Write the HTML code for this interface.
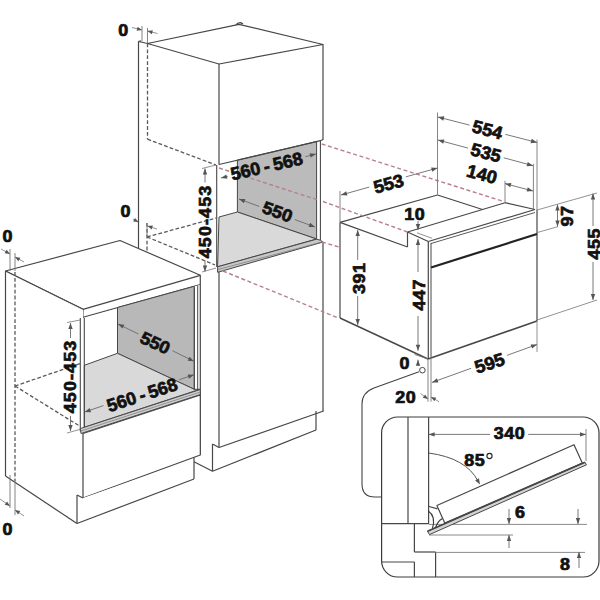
<!DOCTYPE html>
<html><head><meta charset="utf-8"><style>
html,body{margin:0;padding:0;background:#fff;}
svg{display:block;}
text{font-family:"Liberation Sans",sans-serif;font-weight:bold;fill:#111;}
</style></head><body>
<svg width="600" height="600" viewBox="0 0 600 600">
<rect width="600" height="600" fill="#fff"/>
<polygon points="138.5,41.5 147.5,43.5 219,64 219,447.5 212.5,444 212.5,471.3 194,461.7 138.5,430" fill="#fff" stroke="none" stroke-linejoin="round"/>
<line x1="138.5" y1="41.5" x2="138.5" y2="248" stroke="#474747" stroke-width="1.2"/>
<line x1="138.5" y1="41.5" x2="147.5" y2="43.5" stroke="#474747" stroke-width="1.2"/>
<line x1="138.5" y1="41.5" x2="141" y2="40.8" stroke="#474747" stroke-width="1.2"/>
<polygon points="147.5,43.5 239,24.3 323,44.5 219,64" fill="#fff" stroke="#474747" stroke-width="1.2" stroke-linejoin="round"/>
<path d="M236,24.9 Q237.5,22.6 240.5,22.7 L243,23.9" fill="none" stroke="#474747" stroke-width="1.3"/>
<line x1="323" y1="44.5" x2="323" y2="140" stroke="#474747" stroke-width="1.2"/>
<line x1="323" y1="242" x2="323" y2="411" stroke="#474747" stroke-width="1.2"/>
<line x1="219" y1="64" x2="219" y2="447.5" stroke="#474747" stroke-width="1.2"/>
<polygon points="219,164.5 323,139.5 320.4,140.7 320.4,240.2 323,242 217.6,272.3 216.7,165" fill="#fff" stroke="none" stroke-linejoin="round"/>
<polygon points="237.4,160 316.6,141.6 316.6,239 237.4,212" fill="#bbbbbb" stroke="#474747" stroke-width="1.0" stroke-linejoin="round"/>
<polygon points="219,217 237.4,212 316.6,239 217.6,266.8" fill="#d9d9d9" stroke="#474747" stroke-width="1.0" stroke-linejoin="round"/>
<polyline points="219,164.5 320.4,140.7 323,139.5" fill="none" stroke="#474747" stroke-width="1.2"/>
<line x1="320.4" y1="140.7" x2="320.4" y2="240.2" stroke="#474747" stroke-width="1.1"/>
<line x1="216.7" y1="165" x2="216.7" y2="267" stroke="#474747" stroke-width="1.1"/>
<polygon points="217.6,266.8 316.6,239.2 320.4,240.2 323,242 217.6,272.3" fill="#c8c8c8" stroke="#474747" stroke-width="1.0" stroke-linejoin="round"/>
<line x1="218" y1="269.5" x2="322" y2="242" stroke="#777" stroke-width="0.7"/>
<line x1="219" y1="447.5" x2="323.7" y2="411" stroke="#474747" stroke-width="1.2"/>
<polyline points="212.5,444 219,447.5" fill="none" stroke="#474747" stroke-width="1.2"/>
<line x1="212.5" y1="444" x2="212.5" y2="471.3" stroke="#474747" stroke-width="1.2"/>
<line x1="212.5" y1="471.3" x2="316" y2="430" stroke="#474747" stroke-width="1.2"/>
<line x1="316" y1="411" x2="316" y2="430" stroke="#474747" stroke-width="1.2"/>
<line x1="194" y1="461.7" x2="212.5" y2="471.3" stroke="#474747" stroke-width="1.2"/>
<line x1="147.5" y1="43.5" x2="147.5" y2="139.2" stroke="#5a5a5a" stroke-width="1.3" stroke-dasharray="3.8,2.1"/>
<line x1="147.5" y1="139.2" x2="216" y2="165" stroke="#5a5a5a" stroke-width="1.3" stroke-dasharray="3.8,2.1"/>
<line x1="147" y1="223" x2="147" y2="251" stroke="#5a5a5a" stroke-width="1.3" stroke-dasharray="3.8,2.1"/>
<line x1="147" y1="237" x2="216" y2="218" stroke="#5a5a5a" stroke-width="1.3" stroke-dasharray="3.8,2.1"/>
<line x1="147" y1="237" x2="215" y2="265" stroke="#5a5a5a" stroke-width="1.3" stroke-dasharray="3.8,2.1"/>
<polygon points="5.5,271 120,240.5 200.3,275.3 200.3,284.7 80.3,318 83,309.3" fill="#fff" stroke="#474747" stroke-width="1.2" stroke-linejoin="round"/>
<line x1="83" y1="309.3" x2="200.3" y2="275.3" stroke="#474747" stroke-width="1.2"/>
<line x1="83" y1="309.3" x2="83" y2="318" stroke="#474747" stroke-width="1.0"/>
<polygon points="5.5,271 83,309.3 83,498 77,495 77,523.5 5.5,476" fill="#fff" stroke="none" stroke-linejoin="round"/>
<line x1="5.5" y1="271" x2="83" y2="309.3" stroke="#474747" stroke-width="1.2"/>
<line x1="5.5" y1="271" x2="5.5" y2="476" stroke="#474747" stroke-width="1.2"/>
<line x1="5.5" y1="476" x2="77" y2="523.5" stroke="#474747" stroke-width="1.2"/>
<polygon points="84.3,318 200.3,284.7 200.3,391 80.3,431" fill="#fff" stroke="none" stroke-linejoin="round"/>
<polygon points="117.5,307.5 194.3,286.3 194.3,389.3 117.5,353.3" fill="#b8b8b8" stroke="#474747" stroke-width="1.0" stroke-linejoin="round"/>
<polygon points="84.3,365.3 117.5,353.3 194.3,389.3 200,389.3 84.3,427.3" fill="#d9d9d9" stroke="#474747" stroke-width="1.0" stroke-linejoin="round"/>
<line x1="80.3" y1="318" x2="80.3" y2="431.3" stroke="#474747" stroke-width="1.1"/>
<line x1="84.3" y1="318" x2="84.3" y2="427.3" stroke="#474747" stroke-width="1.1"/>
<line x1="194.3" y1="287.5" x2="194.3" y2="390" stroke="#474747" stroke-width="1.0"/>
<line x1="197.7" y1="285.5" x2="197.7" y2="390" stroke="#474747" stroke-width="1.0"/>
<line x1="200.3" y1="284.7" x2="200.3" y2="455" stroke="#474747" stroke-width="1.2"/>
<polygon points="80.3,428.6 200.3,389.5 200.3,394.5 81,433.5" fill="#cfcfcf" stroke="#474747" stroke-width="1.0" stroke-linejoin="round"/>
<line x1="80.8" y1="431" x2="200.3" y2="392" stroke="#777" stroke-width="0.7"/>
<polygon points="83,433.5 200.3,395 200.3,455 83,498" fill="#fff" stroke="#474747" stroke-width="1.2" stroke-linejoin="round"/>
<polygon points="77,495 83,498 194,459 194,479 77,523.5" fill="#fff" stroke="none" stroke-linejoin="round"/>
<line x1="77" y1="495" x2="77" y2="523.5" stroke="#474747" stroke-width="1.2"/>
<line x1="77" y1="495" x2="83" y2="498" stroke="#474747" stroke-width="1.2"/>
<line x1="77" y1="523.5" x2="194" y2="479" stroke="#474747" stroke-width="1.2"/>
<line x1="194" y1="457" x2="194" y2="479" stroke="#474747" stroke-width="1.2"/>
<line x1="15" y1="272" x2="15" y2="481" stroke="#5a5a5a" stroke-width="1.3" stroke-dasharray="3.8,2.1"/>
<line x1="15" y1="386" x2="80.3" y2="363.5" stroke="#5a5a5a" stroke-width="1.3" stroke-dasharray="3.8,2.1"/>
<line x1="15" y1="386" x2="80.3" y2="426.5" stroke="#5a5a5a" stroke-width="1.3" stroke-dasharray="3.8,2.1"/>
<polygon points="340,222.4 437.5,195 482.5,209.5 505,202.7 535,209.5 537,321 428,359 340,318" fill="#fff" stroke="none" stroke-linejoin="round"/>
<line x1="340" y1="222.4" x2="437.5" y2="195" stroke="#474747" stroke-width="1.2"/>
<line x1="437.5" y1="195" x2="482.5" y2="209.5" stroke="#474747" stroke-width="1.2"/>
<line x1="340" y1="222.4" x2="407.5" y2="247" stroke="#474747" stroke-width="1.2"/>
<line x1="407.5" y1="247" x2="407.5" y2="232" stroke="#474747" stroke-width="1.2"/>
<line x1="407.5" y1="232" x2="505" y2="202.7" stroke="#474747" stroke-width="1.2"/>
<line x1="505" y1="202.7" x2="535" y2="209.5" stroke="#474747" stroke-width="1.2"/>
<line x1="407.5" y1="232" x2="428.3" y2="241.5" stroke="#474747" stroke-width="1.2"/>
<line x1="417" y1="232.8" x2="432" y2="238.3" stroke="#777" stroke-width="0.8"/>
<line x1="428.3" y1="241.5" x2="535" y2="209.5" stroke="#474747" stroke-width="1.2"/>
<line x1="431" y1="243.5" x2="535" y2="212.5" stroke="#474747" stroke-width="0.9"/>
<line x1="428.3" y1="241.5" x2="428.3" y2="359" stroke="#474747" stroke-width="1.2"/>
<line x1="431" y1="243" x2="431" y2="357" stroke="#474747" stroke-width="1.0"/>
<line x1="537" y1="209.5" x2="537" y2="321" stroke="#474747" stroke-width="1.2"/>
<line x1="428" y1="359" x2="537" y2="321" stroke="#474747" stroke-width="1.5"/>
<line x1="340" y1="318" x2="428" y2="359" stroke="#474747" stroke-width="1.4"/>
<line x1="340" y1="222.4" x2="340" y2="318" stroke="#474747" stroke-width="1.2"/>
<line x1="431" y1="267.5" x2="537" y2="234" stroke="#222" stroke-width="2.2"/>
<line x1="321.7" y1="144" x2="502" y2="201" stroke="#b5828c" stroke-width="1.4" stroke-dasharray="4,2.6"/>
<line x1="219" y1="168" x2="318" y2="200" stroke="#b5828c" stroke-width="1.4" stroke-dasharray="4,2.6"/>
<line x1="323" y1="201.5" x2="407.5" y2="232" stroke="#b5828c" stroke-width="1.4" stroke-dasharray="4,2.6"/>
<line x1="322" y1="242" x2="340" y2="247.3" stroke="#b5828c" stroke-width="1.4" stroke-dasharray="4,2.6"/>
<line x1="223" y1="271" x2="337" y2="317.5" stroke="#b5828c" stroke-width="1.4" stroke-dasharray="4,2.6"/>
<line x1="142" y1="26" x2="142" y2="41.5" stroke="#777" stroke-width="0.9"/>
<line x1="147.5" y1="28" x2="147.5" y2="43" stroke="#777" stroke-width="0.9"/>
<line x1="132" y1="27.5" x2="142" y2="30" stroke="#777" stroke-width="0.8"/>
<polygon points="142.00,30.00 136.66,30.73 137.63,26.85" fill="#555"/>
<line x1="157.5" y1="33.5" x2="147.5" y2="31" stroke="#777" stroke-width="0.8"/>
<polygon points="147.50,31.00 152.84,30.27 151.87,34.15" fill="#555"/>
<g transform="translate(123.3,30) rotate(0) scale(1.12,1)"><text x="0.25" y="5.73" font-size="16" letter-spacing="0.5" text-anchor="middle" stroke="#111" stroke-width="0.7">0</text></g>
<line x1="133" y1="219" x2="138" y2="222" stroke="#777" stroke-width="0.8"/>
<polygon points="138.50,222.00 133.15,221.41 135.03,217.88" fill="#555"/>
<line x1="147" y1="223" x2="147" y2="237" stroke="#777" stroke-width="0.9"/>
<line x1="157" y1="229" x2="147.5" y2="226" stroke="#777" stroke-width="0.8"/>
<polygon points="147.50,226.00 152.87,225.60 151.67,229.41" fill="#555"/>
<g transform="translate(125.5,211) rotate(0) scale(1.12,1)"><text x="0.25" y="5.73" font-size="16" letter-spacing="0.5" text-anchor="middle" stroke="#111" stroke-width="0.7">0</text></g>
<line x1="202" y1="168.5" x2="216" y2="165" stroke="#777" stroke-width="0.8"/>
<line x1="202" y1="272" x2="216" y2="268" stroke="#777" stroke-width="0.8"/>
<line x1="205" y1="168.5" x2="205.0" y2="182.5" stroke="#6a6a6a" stroke-width="0.9"/>
<line x1="205.0" y1="260.5" x2="205" y2="271.5" stroke="#6a6a6a" stroke-width="0.9"/>
<polygon points="205.00,168.50 207.20,174.50 202.80,174.50" fill="#555"/>
<polygon points="205.00,271.50 202.80,265.50 207.20,265.50" fill="#555"/>
<g transform="translate(205,222) rotate(-90) scale(1.12,1)"><text x="0.50" y="5.73" font-size="16" letter-spacing="1.0" text-anchor="middle" stroke="#111" stroke-width="0.7">450-453</text></g>
<line x1="221" y1="178" x2="227.83841972795835" y2="176.27239922662105" stroke="#6a6a6a" stroke-width="0.9"/>
<line x1="305.4015552746455" y1="156.67750182535272" x2="316" y2="154" stroke="#6a6a6a" stroke-width="0.9"/>
<polygon points="221.00,178.00 226.28,174.40 227.36,178.66" fill="#555"/>
<polygon points="316.00,154.00 310.72,157.60 309.64,153.34" fill="#555"/>
<g transform="translate(266.5,166) rotate(-13) scale(1.0,1)"><text x="0.00" y="6.44" font-size="18" letter-spacing="0" text-anchor="middle" stroke="#111" stroke-width="0.7">560 - 568</text></g>
<line x1="239" y1="199" x2="259.12513931706025" y2="206.4145250115485" stroke="#6a6a6a" stroke-width="0.9"/>
<line x1="294.78217775611046" y1="219.55132864698805" x2="315" y2="227" stroke="#6a6a6a" stroke-width="0.9"/>
<polygon points="239.00,199.00 245.39,199.01 243.87,203.14" fill="#555"/>
<polygon points="315.00,227.00 308.61,226.99 310.13,222.86" fill="#555"/>
<g transform="translate(277.5,211.5) rotate(20) scale(1.05,1)"><text x="0.00" y="6.26" font-size="17.5" letter-spacing="0" text-anchor="middle" stroke="#111" stroke-width="0.7">550</text></g>
<line x1="10" y1="249" x2="10" y2="271" stroke="#777" stroke-width="0.9"/>
<line x1="15" y1="253" x2="15" y2="271" stroke="#777" stroke-width="0.9"/>
<line x1="1" y1="249" x2="10" y2="254" stroke="#777" stroke-width="0.8"/>
<polygon points="10.00,254.00 4.66,253.32 6.60,249.82" fill="#555"/>
<line x1="24" y1="262" x2="15" y2="257" stroke="#777" stroke-width="0.8"/>
<polygon points="15.00,257.00 20.34,257.68 18.40,261.18" fill="#555"/>
<g transform="translate(7.5,236) rotate(0) scale(1.12,1)"><text x="0.25" y="5.73" font-size="16" letter-spacing="0.5" text-anchor="middle" stroke="#111" stroke-width="0.7">0</text></g>
<line x1="10" y1="475" x2="10" y2="508" stroke="#777" stroke-width="0.9"/>
<line x1="15" y1="481" x2="15" y2="515" stroke="#777" stroke-width="0.9"/>
<line x1="0" y1="499" x2="10" y2="506" stroke="#777" stroke-width="0.8"/>
<polygon points="10.00,506.00 4.76,504.77 7.05,501.49" fill="#555"/>
<line x1="24" y1="516" x2="15" y2="510" stroke="#777" stroke-width="0.8"/>
<polygon points="15.00,510.00 20.27,511.11 18.05,514.44" fill="#555"/>
<g transform="translate(7.5,529) rotate(0) scale(1.12,1)"><text x="0.25" y="5.73" font-size="16" letter-spacing="0.5" text-anchor="middle" stroke="#111" stroke-width="0.7">0</text></g>
<line x1="67" y1="322.5" x2="80.3" y2="320" stroke="#777" stroke-width="0.8"/>
<line x1="67" y1="433" x2="80.3" y2="429.3" stroke="#777" stroke-width="0.8"/>
<line x1="70.5" y1="323" x2="70.5" y2="338.0" stroke="#6a6a6a" stroke-width="0.9"/>
<line x1="70.5" y1="416.0" x2="70.5" y2="431" stroke="#6a6a6a" stroke-width="0.9"/>
<polygon points="70.50,323.00 72.70,329.00 68.30,329.00" fill="#555"/>
<polygon points="70.50,431.00 68.30,425.00 72.70,425.00" fill="#555"/>
<g transform="translate(70.5,377) rotate(-90) scale(1.12,1)"><text x="0.50" y="5.73" font-size="16" letter-spacing="1.0" text-anchor="middle" stroke="#111" stroke-width="0.7">450-453</text></g>
<line x1="118" y1="324" x2="138.3991659780611" y2="334.01169593396946" stroke="#6a6a6a" stroke-width="0.9"/>
<line x1="172.5121491773184" y1="350.75398900413126" x2="194" y2="361.3" stroke="#6a6a6a" stroke-width="0.9"/>
<polygon points="118.00,324.00 124.36,324.67 122.42,328.62" fill="#555"/>
<polygon points="194.00,361.30 187.64,360.63 189.58,356.68" fill="#555"/>
<g transform="translate(155.3,342.7) rotate(25) scale(1.05,1)"><text x="0.00" y="6.26" font-size="17.5" letter-spacing="0" text-anchor="middle" stroke="#111" stroke-width="0.7">550</text></g>
<line x1="84.7" y1="412" x2="103.45460716770057" y2="405.5997543700345" stroke="#6a6a6a" stroke-width="0.9"/>
<line x1="179.16724444478666" y1="379.76186443009567" x2="194" y2="374.7" stroke="#6a6a6a" stroke-width="0.9"/>
<polygon points="84.70,412.00 89.67,407.98 91.09,412.14" fill="#555"/>
<polygon points="194.00,374.70 189.03,378.72 187.61,374.56" fill="#555"/>
<g transform="translate(142,394.7) rotate(-18) scale(1.0,1)"><text x="0.00" y="6.44" font-size="18" letter-spacing="0" text-anchor="middle" stroke="#111" stroke-width="0.7">560 - 568</text></g>
<line x1="340" y1="191" x2="340" y2="222" stroke="#777" stroke-width="0.9"/>
<line x1="437.5" y1="112.5" x2="437.5" y2="195" stroke="#777" stroke-width="0.9"/>
<line x1="341" y1="195" x2="369.2744907057982" y2="187.08900260045024" stroke="#6a6a6a" stroke-width="0.9"/>
<line x1="405.86909201547655" y1="176.85009860706873" x2="437.5" y2="168" stroke="#6a6a6a" stroke-width="0.9"/>
<polygon points="341.00,195.00 346.19,191.26 347.37,195.50" fill="#555"/>
<polygon points="437.50,168.00 432.31,171.74 431.13,167.50" fill="#555"/>
<g transform="translate(388.5,183.5) rotate(-15) scale(1.02,1)"><text x="0.00" y="6.44" font-size="18" letter-spacing="0" text-anchor="middle" stroke="#111" stroke-width="0.7">553</text></g>
<line x1="537" y1="139.7" x2="537" y2="209.5" stroke="#777" stroke-width="0.9"/>
<line x1="533.4" y1="163.8" x2="533.4" y2="209" stroke="#777" stroke-width="0.9"/>
<line x1="505" y1="180.8" x2="505" y2="202.7" stroke="#777" stroke-width="0.9"/>
<line x1="438" y1="117" x2="469.5243652985097" y2="125.11991227385855" stroke="#6a6a6a" stroke-width="0.9"/>
<line x1="505.35485967457964" y1="134.3489790070887" x2="537" y2="142.5" stroke="#6a6a6a" stroke-width="0.9"/>
<polygon points="438.00,117.00 444.36,116.37 443.26,120.63" fill="#555"/>
<polygon points="537.00,142.50 530.64,143.13 531.74,138.87" fill="#555"/>
<g transform="translate(487.5,129.5) rotate(15) scale(1.02,1)"><text x="0.00" y="6.44" font-size="18" letter-spacing="0" text-anchor="middle" stroke="#111" stroke-width="0.7">554</text></g>
<line x1="438" y1="140" x2="468.01960519784706" y2="148.1210931956281" stroke="#6a6a6a" stroke-width="0.9"/>
<line x1="503.73574636412866" y1="157.78324927955902" x2="533" y2="165.7" stroke="#6a6a6a" stroke-width="0.9"/>
<polygon points="438.00,140.00 444.37,139.44 443.22,143.69" fill="#555"/>
<polygon points="533.00,165.70 526.63,166.26 527.78,162.01" fill="#555"/>
<g transform="translate(486,152.5) rotate(15) scale(1.02,1)"><text x="0.00" y="6.44" font-size="18" letter-spacing="0" text-anchor="middle" stroke="#111" stroke-width="0.7">535</text></g>
<line x1="505" y1="183.6" x2="533" y2="191" stroke="#6a6a6a" stroke-width="0.9"/>
<polygon points="505.00,183.60 511.36,183.01 510.24,187.26" fill="#555"/>
<polygon points="533.00,191.00 526.64,191.59 527.76,187.34" fill="#555"/>
<g transform="translate(482,174) rotate(15) scale(1.02,1)"><text x="0.00" y="6.44" font-size="18" letter-spacing="0" text-anchor="middle" stroke="#111" stroke-width="0.7">140</text></g>
<line x1="418" y1="221" x2="418" y2="230" stroke="#6a6a6a" stroke-width="0.9"/>
<polygon points="418.00,230.00 415.80,224.00 420.20,224.00" fill="#555"/>
<line x1="418" y1="239" x2="418" y2="252" stroke="#6a6a6a" stroke-width="0.9"/>
<polygon points="418.00,239.00 420.20,245.00 415.80,245.00" fill="#555"/>
<g transform="translate(414.5,214.3) rotate(0) scale(1.12,1)"><text x="0.25" y="5.73" font-size="16" letter-spacing="0.5" text-anchor="middle" stroke="#111" stroke-width="0.7">10</text></g>
<line x1="357.7" y1="230" x2="357.7" y2="260.0" stroke="#6a6a6a" stroke-width="0.9"/>
<line x1="357.7" y1="296.0" x2="357.7" y2="325" stroke="#6a6a6a" stroke-width="0.9"/>
<polygon points="357.70,230.00 359.90,236.00 355.50,236.00" fill="#555"/>
<polygon points="357.70,325.00 355.50,319.00 359.90,319.00" fill="#555"/>
<g transform="translate(359,278.5) rotate(-90) scale(1.12,1)"><text x="0.25" y="5.73" font-size="16" letter-spacing="0.5" text-anchor="middle" stroke="#111" stroke-width="0.7">391</text></g>
<line x1="418" y1="252" x2="418" y2="272" stroke="#6a6a6a" stroke-width="0.9"/>
<line x1="418" y1="316" x2="418" y2="350.7" stroke="#6a6a6a" stroke-width="0.9"/>
<polygon points="418.00,350.70 415.80,344.70 420.20,344.70" fill="#555"/>
<line x1="418" y1="359.7" x2="418" y2="366" stroke="#6a6a6a" stroke-width="0.9"/>
<polygon points="418.00,359.70 420.20,365.70 415.80,365.70" fill="#555"/>
<line x1="414.5" y1="354.5" x2="428" y2="359" stroke="#777" stroke-width="0.8"/>
<g transform="translate(419,295) rotate(-90) scale(1.12,1)"><text x="0.25" y="5.73" font-size="16" letter-spacing="0.5" text-anchor="middle" stroke="#111" stroke-width="0.7">447</text></g>
<line x1="537" y1="210" x2="597" y2="193" stroke="#777" stroke-width="0.8"/>
<line x1="537" y1="232.6" x2="558" y2="226.6" stroke="#777" stroke-width="0.8"/>
<line x1="537" y1="320" x2="597" y2="300" stroke="#777" stroke-width="0.8"/>
<line x1="557.5" y1="204.5" x2="557.5" y2="226.6" stroke="#6a6a6a" stroke-width="0.9"/>
<polygon points="557.50,204.50 559.70,210.50 555.30,210.50" fill="#555"/>
<polygon points="557.50,226.60 555.30,220.60 559.70,220.60" fill="#555"/>
<g transform="translate(566.8,216.3) rotate(-90) scale(1.12,1)"><text x="0.25" y="5.73" font-size="16" letter-spacing="0.5" text-anchor="middle" stroke="#111" stroke-width="0.7">97</text></g>
<line x1="593" y1="193.5" x2="593.0" y2="226.0" stroke="#6a6a6a" stroke-width="0.9"/>
<line x1="593.0" y1="262.0" x2="593" y2="300" stroke="#6a6a6a" stroke-width="0.9"/>
<polygon points="593.00,193.50 595.20,199.50 590.80,199.50" fill="#555"/>
<polygon points="593.00,300.00 590.80,294.00 595.20,294.00" fill="#555"/>
<g transform="translate(594.5,244) rotate(-90) scale(1.12,1)"><text x="0.25" y="5.73" font-size="16" letter-spacing="0.5" text-anchor="middle" stroke="#111" stroke-width="0.7">455</text></g>
<line x1="537" y1="321" x2="537" y2="352" stroke="#777" stroke-width="0.8"/>
<line x1="432" y1="382.4" x2="471.19593223702793" y2="368.25213493539655" stroke="#6a6a6a" stroke-width="0.9"/>
<line x1="506.93879248513434" y1="355.35066442679437" x2="537" y2="344.5" stroke="#6a6a6a" stroke-width="0.9"/>
<polygon points="432.00,382.40 436.90,378.29 438.39,382.43" fill="#555"/>
<polygon points="537.00,344.50 532.10,348.61 530.61,344.47" fill="#555"/>
<g transform="translate(489.5,363) rotate(-18) scale(1.02,1)"><text x="0.00" y="6.44" font-size="18" letter-spacing="0" text-anchor="middle" stroke="#111" stroke-width="0.7">595</text></g>
<g transform="translate(404.5,363.3) rotate(0) scale(1.12,1)"><text x="0.25" y="5.73" font-size="16" letter-spacing="0.5" text-anchor="middle" stroke="#111" stroke-width="0.7">0</text></g>
<g transform="translate(405.5,397) rotate(0) scale(1.12,1)"><text x="0.25" y="5.73" font-size="16" letter-spacing="0.5" text-anchor="middle" stroke="#111" stroke-width="0.7">20</text></g>
<line x1="428" y1="359" x2="428" y2="401.7" stroke="#777" stroke-width="0.9"/>
<line x1="431" y1="357" x2="431" y2="401.7" stroke="#777" stroke-width="0.9"/>
<line x1="420.5" y1="393.5" x2="428" y2="399" stroke="#777" stroke-width="0.8"/>
<polygon points="428.00,399.00 422.79,397.66 425.15,394.43" fill="#555"/>
<line x1="439" y1="401.7" x2="431" y2="397" stroke="#777" stroke-width="0.8"/>
<polygon points="431.00,397.00 436.32,397.81 434.30,401.26" fill="#555"/>
<circle cx="422.4" cy="370.2" r="2.8" fill="#fff" stroke="#444" stroke-width="1"/>
<path d="M419,371.8 L374,388 Q362,392.5 362,404 L362,484 Q362,497 375,497 L381.6,497" fill="none" stroke="#444" stroke-width="1.1"/>
<rect x="381.6" y="417" width="217.4" height="160" rx="16" ry="16" fill="#fff" stroke="#3c3c3c" stroke-width="1.2"/>
<line x1="408" y1="417" x2="408" y2="523.6" stroke="#474747" stroke-width="1.2"/>
<line x1="428.6" y1="417" x2="428.6" y2="523.6" stroke="#474747" stroke-width="1.2"/>
<line x1="381.6" y1="523.6" x2="429" y2="523.6" stroke="#474747" stroke-width="1.2"/>
<line x1="414.4" y1="523.6" x2="414.4" y2="552" stroke="#474747" stroke-width="1.2"/>
<line x1="414.4" y1="552" x2="435.6" y2="552" stroke="#474747" stroke-width="1.2"/>
<line x1="435.6" y1="552" x2="435.6" y2="577" stroke="#474747" stroke-width="1.2"/>
<line x1="381.6" y1="562" x2="414.4" y2="562" stroke="#474747" stroke-width="1.2"/>
<line x1="414.4" y1="562" x2="414.4" y2="577" stroke="#474747" stroke-width="1.2"/>
<line x1="429" y1="524.4" x2="587" y2="524.4" stroke="#8a8a8a" stroke-width="1.0"/>
<line x1="429" y1="535" x2="513" y2="535" stroke="#8a8a8a" stroke-width="1.0"/>
<line x1="435.6" y1="552.4" x2="585" y2="552.4" stroke="#8a8a8a" stroke-width="1.0"/>
<line x1="428.6" y1="434.4" x2="490.2" y2="434.4" stroke="#6a6a6a" stroke-width="0.9"/>
<line x1="528.2" y1="434.4" x2="586" y2="434.4" stroke="#6a6a6a" stroke-width="0.9"/>
<polygon points="428.60,434.40 434.60,432.20 434.60,436.60" fill="#555"/>
<polygon points="586.00,434.40 580.00,436.60 580.00,432.20" fill="#555"/>
<g transform="translate(509.2,433) rotate(0) scale(1.12,1)"><text x="0.25" y="5.73" font-size="16" letter-spacing="0.5" text-anchor="middle" stroke="#111" stroke-width="0.7">340</text></g>
<line x1="586" y1="429" x2="586" y2="461" stroke="#777" stroke-width="0.9"/>
<path d="M428.6,453 Q466,458 478,481" fill="none" stroke="#555" stroke-width="1"/>
<polygon points="480.00,484.50 475.11,480.38 478.93,478.20" fill="#555"/>
<g transform="translate(474.5,460) rotate(0) scale(1.12,1)"><text x="0.25" y="5.73" font-size="16" letter-spacing="0.5" text-anchor="middle" stroke="#111" stroke-width="0.7">85</text></g>
<circle cx="489.5" cy="456" r="2.6" fill="none" stroke="#222" stroke-width="1.1"/>
<polygon points="436.9,505.5 574,444.7 582.3,463 444.75,523.1" fill="#fff" stroke="#474747" stroke-width="1.2" stroke-linejoin="round"/>
<polygon points="427.5,531.2 585,462.3 586.5,464.8 429.5,534.6" fill="#d4d4d4" stroke="#474747" stroke-width="1.0" stroke-linejoin="round"/>
<line x1="427.5" y1="531.2" x2="585" y2="462.3" stroke="#474747" stroke-width="1.5"/>
<line x1="428.25" y1="506.25" x2="437.5" y2="508.9" stroke="#474747" stroke-width="1.1"/>
<path d="M428.25,511 Q436,516 432.5,528.5" fill="none" stroke="#3c3c3c" stroke-width="1.1"/>
<path d="M435.5,528 Q437.5,521 442.5,518.5" fill="none" stroke="#3c3c3c" stroke-width="1.1"/>
<line x1="509" y1="509" x2="509" y2="524" stroke="#6a6a6a" stroke-width="0.9"/>
<polygon points="509.00,524.00 506.80,518.00 511.20,518.00" fill="#555"/>
<line x1="509" y1="535" x2="509" y2="548" stroke="#6a6a6a" stroke-width="0.9"/>
<polygon points="509.00,535.00 511.20,541.00 506.80,541.00" fill="#555"/>
<line x1="578" y1="509" x2="578" y2="524" stroke="#6a6a6a" stroke-width="0.9"/>
<polygon points="578.00,524.00 575.80,518.00 580.20,518.00" fill="#555"/>
<line x1="579" y1="552" x2="579" y2="568" stroke="#6a6a6a" stroke-width="0.9"/>
<polygon points="579.00,552.00 581.20,558.00 576.80,558.00" fill="#555"/>
<g transform="translate(520,512.5) rotate(0) scale(1.12,1)"><text x="0.25" y="5.73" font-size="16" letter-spacing="0.5" text-anchor="middle" stroke="#111" stroke-width="0.7">6</text></g>
<g transform="translate(565,564) rotate(0) scale(1.12,1)"><text x="0.25" y="5.73" font-size="16" letter-spacing="0.5" text-anchor="middle" stroke="#111" stroke-width="0.7">8</text></g>
</svg></body></html>
